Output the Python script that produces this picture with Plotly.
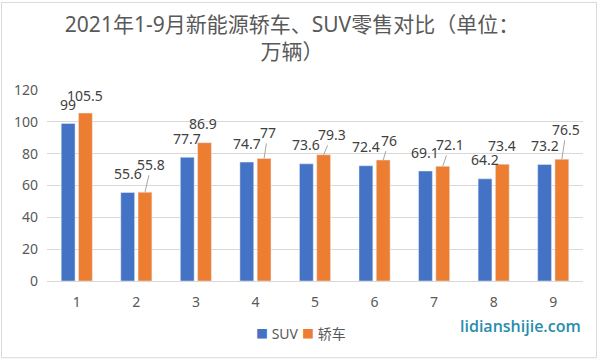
import plotly.graph_objects as go

months = [1, 2, 3, 4, 5, 6, 7, 8, 9]
suv = [99, 55.6, 77.7, 74.7, 73.6, 72.4, 69.1, 64.2, 73.2]
sedan = [105.5, 55.8, 86.9, 77, 79.3, 76, 72.1, 73.4, 76.5]
series_names = ["SUV", "轿车"]
title_text = "2021年1-9月新能源轿车、SUV零售对比（单位：<br>万辆）"
y_ticks = [0, 20, 40, 60, 80, 100, 120]

# label offsets (pixels) for the 轿车 labels, and whether a leader line is drawn
sedan_label_dx = [-0.5, 6.5, -1.5, 4, 8.5, 6, 7.5, 0, 4.5]
sedan_label_dy = [-18, -28, -19, -26, -20.5, -20, -22, -19, -30]
sedan_leader = [False, True, False, True, True, True, True, False, True]

BLUE = "#4472C4"
ORANGE = "#ED7D31"
W, H = 602, 362
ML, MR, MT, MB = 47, 19, 90, 79
BARGAP = 0.42
FONT = "Noto Sans, Noto Sans CJK SC"
pw = W - ML - MR
ph = H - MT - MB

fig = go.Figure()
fig.add_trace(go.Bar(x=months, y=suv, name=series_names[0], marker_color=BLUE, showlegend=False))
fig.add_trace(go.Bar(x=months, y=sedan, name=series_names[1], marker_color=ORANGE, showlegend=False))
# legend entries: coloured square glyph + name, each in its own legend box
legend_text_left = [256, 302]
for i, (nm, col) in enumerate(zip(series_names, [BLUE, ORANGE])):
    fig.add_trace(go.Scatter(x=[None], y=[None], mode="markers",
                             name=f'<span style="color:{col};font-size:12px">■</span> {nm}',
                             legend="legend" if i == 0 else "legend2",
                             marker=dict(symbol="square", size=1, color="rgba(0,0,0,0)")))

off = (1 - BARGAP) / 4
ann = []
for m, v in zip(months, suv):
    ann.append(dict(x=m - off, y=v, xref="x", yref="y", text=f"{v:g}", showarrow=False,
                    xanchor="center", yanchor="middle",
                    yshift=19, font=dict(size=14, color="#404040", family=FONT)))
for m, v, dx, dy, ld in zip(months, sedan, sedan_label_dx, sedan_label_dy, sedan_leader):
    if ld:
        ann.append(dict(x=m + off, y=v, xref="x", yref="y", text=f"{v:g}", showarrow=True,
                        ax=dx, ay=dy, arrowhead=0, arrowwidth=1, arrowcolor="#a6a6a6",
                        standoff=0, startstandoff=0,
                        font=dict(size=14, color="#404040", family=FONT)))
    else:
        ann.append(dict(x=m + off, y=v, xref="x", yref="y", text=f"{v:g}", showarrow=False,
                        xanchor="center", yanchor="middle",
                        xshift=dx, yshift=-dy, font=dict(size=14, color="#404040", family=FONT)))

# watermark
ann.append(dict(x=(520.5 - ML) / pw, y=(H - MB - 328) / ph, xref="paper", yref="paper",
                xanchor="center", yanchor="middle",
                text="lidianshijie.com", showarrow=False,
                font=dict(size=16, color="#2a8cab", family="Open Sans", weight=600)))

legend_common = dict(orientation="h", xanchor="left", y=(H - MB - 336) / ph, yanchor="middle",
                     font=dict(size=14, color="#595959", family=FONT), itemwidth=30,
                     bgcolor="rgba(0,0,0,0)")

fig.update_layout(
    width=W, height=H,
    margin=dict(l=ML, r=MR, t=MT, b=MB),
    paper_bgcolor="white", plot_bgcolor="white",
    barmode="group", bargap=BARGAP, bargroupgap=0.2,
    title=dict(text=title_text, x=292 / W, xanchor="center", xref="container",
               y=1 - 31.5 / H, yanchor="middle", yref="container",
               font=dict(size=21, color="#595959", family=FONT)),
    xaxis=dict(type="linear", range=[0.5, 9.5], tickvals=months, ticktext=[str(m) for m in months],
               showgrid=False, zeroline=False, showline=True, linecolor="#d9d9d9", linewidth=1,
               ticklabelstandoff=8, tickfont=dict(size=14, color="#595959", family=FONT)),
    yaxis=dict(range=[0, 120], tickvals=y_ticks, showgrid=True, gridcolor="#d9d9d9", gridwidth=1,
               zeroline=False, showline=False, ticklabelstandoff=8,
               tickfont=dict(size=14, color="#595959", family=FONT)),
    legend=dict(x=(legend_text_left[0] - 40 - ML) / pw, **legend_common),
    legend2=dict(x=(legend_text_left[1] - 40 - ML) / pw, **legend_common),
    annotations=ann,
    shapes=[dict(type="rect", xref="paper", yref="paper",
                 x0=(1.5 - ML) / pw, x1=(596.5 - ML) / pw,
                 y0=(H - MB - 360.5) / ph, y1=(H - MB - 1.5) / ph,
                 line=dict(color="#d9d9d9", width=1), fillcolor="rgba(0,0,0,0)", layer="below")],
)

fig.write_html("out.html", config={"displayModeBar": False},
               post_script="document.body.style.margin='0';")
